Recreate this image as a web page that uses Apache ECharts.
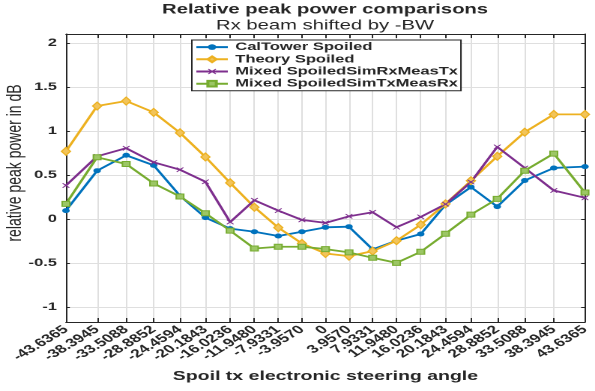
<!DOCTYPE html>
<html>
<head>
<meta charset="utf-8">
<script src="https://cdn.jsdelivr.net/npm/echarts@6/dist/echarts.min.js"></script>
<style>
html,body{margin:0;padding:0;background:#fff;overflow:hidden;}
#wrap{width:595px;height:391px;overflow:hidden;position:relative;}
#c{width:397px;height:391px;transform:scaleX(1.49874);transform-origin:0 0;position:absolute;left:0;top:0;}
</style>
</head>
<body>
<div id="wrap"><div id="c"></div></div>
<script>
// ---- data ----
const angles = [-43.6365,-38.3945,-33.5088,-28.8852,-24.4594,-20.1843,-16.0236,-11.9480,-7.9331,-3.9570,0,3.9570,7.9331,11.9480,16.0236,20.1843,24.4594,28.8852,33.5088,38.3945,43.6365];
const xTickLabels = ['-43.6365','-38.3945','-33.5088','-28.8852','-24.4594','-20.1843','-16.0236','-11.9480','-7.9331','-3.9570','0','3.9570','7.9331','11.9480','16.0236','20.1843','24.4594','28.8852','33.5088','38.3945','43.6365'];
const yTickValues = [-1,-0.5,0,0.5,1,1.5,2];
const yTickLabels = ['-1','-0.5','0','0.5','1','1.5','2'];
const seriesNames = ['CalTower Spoiled','Theory Spoiled','Mixed SpoiledSimRxMeasTx','Mixed SpoiledSimTxMeasRx'];
const calTower = [0.095,0.548,0.723,0.609,0.263,0.015,-0.11,-0.145,-0.194,-0.145,-0.095,-0.088,-0.346,-0.247,-0.171,0.16,0.362,0.14,0.437,0.579,0.594];
const theory = [0.768,1.282,1.339,1.21,0.978,0.704,0.41,0.133,-0.099,-0.278,-0.392,-0.422,-0.365,-0.247,-0.065,0.171,0.434,0.711,0.985,1.187,1.187];
const mixedRxTx = [0.38,0.711,0.803,0.643,0.559,0.422,-0.035,0.213,0.095,-0.011,-0.045,0.03,0.076,-0.094,0.023,0.168,0.419,0.818,0.579,0.323,0.24];
const mixedTxRx = [0.171,0.7,0.624,0.403,0.255,0.065,-0.133,-0.335,-0.316,-0.316,-0.342,-0.38,-0.441,-0.499,-0.373,-0.168,0.049,0.228,0.548,0.742,0.3];

const pairs = ys => angles.map((a, i) => [a, ys[i]]);
const xFmt = v => { const i = angles.findIndex(a => Math.abs(a - v) < 1e-6); return i >= 0 ? xTickLabels[i] : ''; };
const yFmt = v => { const i = yTickValues.findIndex(a => Math.abs(a - v) < 1e-6); return i >= 0 ? yTickLabels[i] : ''; };

const txt = '#262626';
const gridCol = '#dfdfdf';
const xPath = 'path://M1,0 L5,3.6 L9,0 L10,1 L6.4,5 L10,9 L9,10 L5,6.4 L1,10 L0,9 L3.6,5 L0,1 Z';
const font = '"Liberation Sans", Arial, sans-serif';

const chart = echarts.init(document.getElementById('c'), null, {renderer: 'canvas', devicePixelRatio: 2});
const option = {
  animation: false,
  backgroundColor: '#ffffff',
  title: [
    {text: 'Relative peak power comparisons', left: 216.9, top: 3, textAlign: 'center', padding: 0,
     textStyle: {fontFamily: font, fontWeight: 'bold', fontSize: 13.5, color: txt}},
    {text: 'Rx beam shifted by -BW', left: 216.9, top: 19, textAlign: 'center', padding: 0,
     textStyle: {fontFamily: font, fontWeight: 'normal', fontSize: 13.5, color: txt}}
  ],
  legend: {
    data: seriesNames,
    orient: 'vertical',
    left: 128, top: 40,
    padding: [1, 2, 1, 2],
    itemGap: 0,
    itemWidth: 21, itemHeight: 7,
    backgroundColor: '#ffffff',
    borderColor: txt, borderWidth: 1,
    textStyle: {fontFamily: font, fontWeight: 'bold', fontSize: 11, color: txt, lineHeight: 12.2}
  },
  grid: {left: 44, right: 6.7, top: 34, bottom: 69, containLabel: false, outerBoundsMode: 'none'},
  xAxis: [
    {type: 'value', min: -43.6365, max: 43.6365, position: 'bottom',
     name: 'Spoil tx electronic steering angle', nameLocation: 'middle', nameGap: 48, nameMoveOverlap: false,
     nameTextStyle: {fontFamily: font, fontWeight: 'bold', fontSize: 13, color: txt},
     axisLine: {show: true, onZero: false, lineStyle: {color: txt, width: 1}},
     axisTick: {show: true, inside: true, length: 4, customValues: angles, lineStyle: {color: txt}},
     axisLabel: {show: true, customValues: angles, formatter: xFmt, rotate: 42, margin: 6,
       fontFamily: font, fontWeight: 'bold', fontSize: 11.5, color: txt},
     splitLine: {show: true, lineStyle: {color: gridCol, width: 1}}},
    {type: 'value', min: -43.6365, max: 43.6365, position: 'top',
     axisLine: {show: true, onZero: false, lineStyle: {color: txt, width: 1}},
     axisTick: {show: true, inside: true, length: 4, customValues: angles, lineStyle: {color: txt}},
     axisLabel: {show: false}, splitLine: {show: false}}
  ],
  yAxis: [
    {type: 'value', min: -1.17, max: 2.1, position: 'left',
     name: 'relative peak power in dB', nameLocation: 'middle', nameGap: 27, nameMoveOverlap: false,
     nameTextStyle: {fontFamily: font, fontWeight: 'normal', fontSize: 14, color: txt, padding: [0, 0, 0, 30]},
     axisLine: {show: true, onZero: false, lineStyle: {color: txt, width: 1}},
     axisTick: {show: true, inside: true, length: 2.6, customValues: yTickValues, lineStyle: {color: txt}},
     axisLabel: {show: true, customValues: yTickValues, formatter: yFmt, margin: 6,
       fontFamily: font, fontWeight: 'bold', fontSize: 11, color: txt},
     splitLine: {show: true, lineStyle: {color: gridCol, width: 1}}},
    {type: 'value', min: -1.17, max: 2.1, position: 'right',
     axisLine: {show: true, onZero: false, lineStyle: {color: txt, width: 1}},
     axisTick: {show: true, inside: true, length: 2.6, customValues: yTickValues, lineStyle: {color: txt}},
     axisLabel: {show: false}, splitLine: {show: false}}
  ],
  series: [
    {name: seriesNames[0], type: 'line', data: pairs(calTower), symbol: 'circle', symbolSize: 5,
     lineStyle: {width: 1.8, color: '#0072BD'}, itemStyle: {color: '#0072BD'}},
    {name: seriesNames[1], type: 'line', data: pairs(theory), symbol: 'diamond', symbolSize: [6, 8],
     lineStyle: {width: 1.8, color: '#EDB120'}, itemStyle: {color: '#F2C45A', borderColor: '#EDB120', borderWidth: 1}},
    {name: seriesNames[2], type: 'line', data: pairs(mixedRxTx), symbol: xPath, symbolSize: 5,
     lineStyle: {width: 1.8, color: '#7E2F8E'}, itemStyle: {color: '#7E2F8E'}},
    {name: seriesNames[3], type: 'line', data: pairs(mixedTxRx), symbol: 'rect', symbolSize: 5,
     lineStyle: {width: 1.8, color: '#77AC30'}, itemStyle: {color: '#9CC665', borderColor: '#77AC30', borderWidth: 1}}
  ]
};
chart.setOption(option);
</script>
</body>
</html>
